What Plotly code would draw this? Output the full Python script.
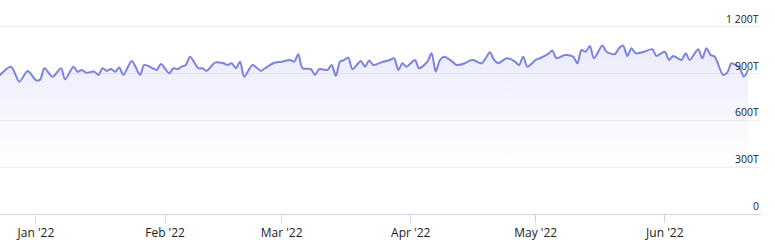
import plotly.graph_objects as go

dates = [
    "2021-12-23", "2021-12-26", "2021-12-28", "2021-12-30", "2022-01-01", "2022-01-02",
    "2022-01-03", "2022-01-05", "2022-01-07", "2022-01-08", "2022-01-10", "2022-01-11",
    "2022-01-12", "2022-01-13", "2022-01-15", "2022-01-16", "2022-01-17", "2022-01-18",
    "2022-01-19", "2022-01-20", "2022-01-21", "2022-01-22", "2022-01-24", "2022-01-26",
    "2022-01-27", "2022-01-29", "2022-01-30", "2022-01-31", "2022-02-02", "2022-02-03",
    "2022-02-04", "2022-02-05", "2022-02-06", "2022-02-07", "2022-02-09", "2022-02-10",
    "2022-02-11", "2022-02-13", "2022-02-15", "2022-02-16", "2022-02-17", "2022-02-18",
    "2022-02-19", "2022-02-20", "2022-02-22", "2022-02-24", "2022-02-25", "2022-02-27",
    "2022-03-01", "2022-03-03", "2022-03-04", "2022-03-05", "2022-03-06", "2022-03-08",
    "2022-03-09", "2022-03-10", "2022-03-12", "2022-03-13", "2022-03-14", "2022-03-15",
    "2022-03-16", "2022-03-17", "2022-03-18", "2022-03-20", "2022-03-21", "2022-03-22",
    "2022-03-23", "2022-03-25", "2022-03-27", "2022-03-28", "2022-03-29", "2022-03-30",
    "2022-03-31", "2022-04-02", "2022-04-03", "2022-04-05", "2022-04-06", "2022-04-07",
    "2022-04-08", "2022-04-09", "2022-04-11", "2022-04-12", "2022-04-14", "2022-04-15",
    "2022-04-16", "2022-04-18", "2022-04-19", "2022-04-20", "2022-04-21", "2022-04-22",
    "2022-04-24", "2022-04-25", "2022-04-26", "2022-04-27", "2022-04-28", "2022-04-29",
    "2022-05-01", "2022-05-02", "2022-05-04", "2022-05-05", "2022-05-06", "2022-05-08",
    "2022-05-10", "2022-05-11", "2022-05-12", "2022-05-13", "2022-05-14", "2022-05-15",
    "2022-05-17", "2022-05-18", "2022-05-20", "2022-05-21", "2022-05-22", "2022-05-23",
    "2022-05-24", "2022-05-25", "2022-05-27", "2022-05-29", "2022-05-30", "2022-06-01",
    "2022-06-02", "2022-06-03", "2022-06-05", "2022-06-06", "2022-06-07", "2022-06-09",
    "2022-06-10", "2022-06-11", "2022-06-12", "2022-06-13", "2022-06-15", "2022-06-16",
    "2022-06-17", "2022-06-18", "2022-06-19", "2022-06-20", "2022-06-21",
]

values = [
    881, 945, 849, 918, 858, 862,
    935, 881, 935, 864, 945, 913,
    924, 907, 913, 892, 935, 918,
    930, 913, 939, 892, 982, 892,
    956, 935, 924, 962, 903, 935,
    929, 945, 956, 1009, 935, 935,
    918, 971, 967, 956, 967, 935,
    977, 881, 956, 918, 935, 967,
    977, 988, 977, 1025, 935, 929,
    892, 929, 924, 956, 886, 977,
    988, 1003, 929, 982, 945, 984,
    956, 973, 988, 999, 924, 967,
    945, 988, 935, 977, 1031, 913,
    988, 1009, 977, 956, 967, 982,
    988, 967, 999, 1038, 988, 967,
    999, 993, 977, 956, 1009, 945,
    988, 999, 1027, 1048, 999, 1020,
    1009, 967, 1052, 1041, 1078, 999,
    1080, 1041, 1025, 1063, 1080, 1014,
    1063, 1031, 1041, 1057, 1014, 1041,
    988, 1014, 988, 1031, 988, 1057,
    999, 1063, 1020, 1009, 892, 907,
    967, 956, 935, 881, 924,
]

x_tick_vals = ["2022-01-01", "2022-02-01", "2022-03-01", "2022-04-01", "2022-05-01", "2022-06-01"]
x_tick_text = ["Jan '22", "Feb '22", "Mar '22", "Apr '22", "May '22", "Jun '22"]
y_tick_vals = [0, 300, 600, 900, 1200]
y_tick_text = ["0", "300T", "600T", "900T", "1 200T"]

LINE = "#7b83dd"

fig = go.Figure()
fig.add_trace(go.Scatter(
    x=dates, y=values,
    mode="lines",
    line=dict(color=LINE, width=2, shape="spline", smoothing=0.8),
    fill="tozeroy",
    fillgradient=dict(
        type="vertical",
        start=0, stop=1080,
        colorscale=[[0, "rgba(124,131,230,0)"], [0.3, "rgba(124,131,230,0.0)"],
                    [1, "rgba(124,131,230,0.16)"]],
    ),
    hoverinfo="skip",
    showlegend=False,
))

for v, t in zip(y_tick_vals, y_tick_text):
    fig.add_annotation(
        x=1, xref="paper", xanchor="right",
        y=v, yref="y", yanchor="bottom", yshift=-1,
        text=t, showarrow=False,
        font=dict(family="Open Sans, sans-serif", size=10.5, color="#222222"),
    )

fig.update_layout(
    width=775, height=251,
    margin=dict(l=0, r=14, t=16, b=37),
    paper_bgcolor="white", plot_bgcolor="white",
    font=dict(family="Open Sans, sans-serif", color="#333333"),
    xaxis=dict(
        range=["2021-12-23 08:38", "2022-06-24 02:24"],
        tickmode="array", tickvals=x_tick_vals, ticktext=x_tick_text,
        showgrid=False, zeroline=False,
        showline=True, linecolor="#ccd6eb", linewidth=1,
        ticks="outside", ticklen=8, tickcolor="#ccd6eb", tickwidth=1,
        tickfont=dict(size=12, color="#222222"),
    ),
    yaxis=dict(
        range=[0, 1270],
        tickmode="array", tickvals=y_tick_vals,
        showticklabels=False,
        showgrid=True, gridcolor="#efefef", gridwidth=1,
        zeroline=False, showline=False, ticks="",
    ),
)

fig.write_html("out.html", config={"displayModeBar": False})
